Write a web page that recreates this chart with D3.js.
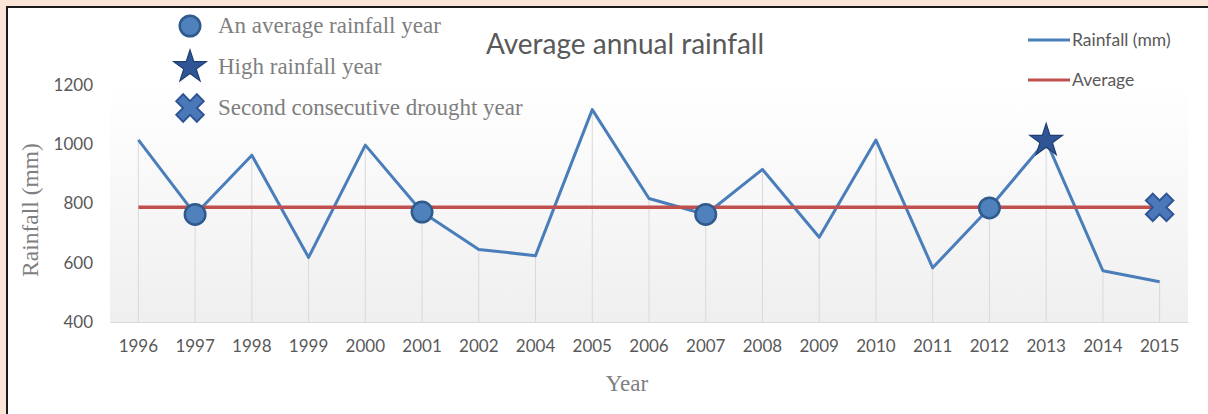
<!DOCTYPE html>
<html>
<head>
  <title>Average annual rainfall</title>
  <script src="https://d3js.org/d3.v7.min.js"></script>
  <style>
    html, body { margin: 0; padding: 0; background: #fbe4d8; overflow: hidden; }
    #panel {
      position: absolute; left: 6px; top: 6px; width: 1220px; height: 430px;
      background: #ffffff; border: 2px solid #1a1a1a;
    }
    svg { position: absolute; left: 0; top: 0; }
  </style>
</head>
<body>
  <div id="panel"></div>
  <svg id="chart" width="1208" height="414"></svg>

  <script>
    // chart values
    var years = ["1996", "1997", "1998", "1999", "2000", "2001", "2002", "2004", "2005", "2006",
                 "2007", "2008", "2009", "2010", "2011", "2012", "2013", "2014", "2015"];
    var rainfall = [1015, 763, 963, 618, 997, 771, 645, 624, 1117, 817,
                    763, 915, 686, 1014, 583, 785, 1012, 573, 536];
    var averageValue = 787;
    var yTicks = [400, 600, 800, 1000, 1200];

    // highlighted years
    var averageYears = ["1997", "2001", "2007", "2012"];
    var highYears = ["2013"];
    var droughtYears = ["2015"];

    var blue = "#4a7ebb", red = "#c0504d";
    var markFill = "#4f81bd", markStroke = "#2f5a8c", starFill = "#2f5597";

    var svg = d3.select("#chart");

    var x = d3.scaleBand().domain(years).range([110, 1188]);
    var y = d3.scaleLinear().domain([400, 1200]).range([322, 85]);
    function cx(d) { return x(d) + x.bandwidth() / 2; }

    var data = years.map(function(d, i) { return { year: d, value: rainfall[i] }; });

    // plot background gradient
    var grad = svg.append("defs").append("linearGradient")
      .attr("id", "bg").attr("x1", 0).attr("y1", 0).attr("x2", 0).attr("y2", 1);
    grad.append("stop").attr("offset", "0%").attr("stop-color", "#ffffff");
    grad.append("stop").attr("offset", "100%").attr("stop-color", "#efefef");

    svg.append("rect")
      .attr("x", x.range()[0]).attr("y", y(1200))
      .attr("width", x.range()[1] - x.range()[0]).attr("height", y(400) - y(1200))
      .attr("fill", "url(#bg)");

    // drop lines
    svg.append("g").selectAll("line").data(data).join("line")
      .attr("x1", function(d) { return cx(d.year); })
      .attr("x2", function(d) { return cx(d.year); })
      .attr("y1", function(d) { return y(d.value); })
      .attr("y2", y(400))
      .attr("stroke", "#d9d9d9").attr("stroke-width", 1);

    // axes
    var yAxis = svg.append("g")
      .attr("transform", "translate(110,0)")
      .call(d3.axisLeft(y).tickValues(yTicks).tickFormat(d3.format("d")).tickSize(0).tickPadding(17));
    yAxis.select(".domain").remove();

    var xAxis = svg.append("g")
      .attr("transform", "translate(0," + y(400) + ")")
      .call(d3.axisBottom(x).tickSize(0).tickPadding(18));
    xAxis.select(".domain").attr("stroke", "#d9d9d9");

    svg.selectAll(".tick text")
      .attr("font-family", "Lato, 'Open Sans', sans-serif")
      .attr("font-size", 17).attr("fill", "#595959");

    // lines
    svg.append("path")
      .datum(data)
      .attr("d", d3.line().x(function(d) { return cx(d.year); }).y(function(d) { return y(d.value); }))
      .attr("fill", "none").attr("stroke", blue).attr("stroke-width", 3)
      .attr("stroke-linejoin", "round");

    svg.append("line")
      .attr("x1", cx(years[0])).attr("x2", cx(years[years.length - 1]))
      .attr("y1", y(averageValue)).attr("y2", y(averageValue))
      .attr("stroke", red).attr("stroke-width", 3.5);

    // marker shapes
    var circlePath = d3.symbol().type(d3.symbolCircle).size(330)();
    var starPath = d3.symbol().type(d3.symbolStar).size(330)();
    var xPath = d3.symbol().type(d3.symbolCross).size(470)();

    function drawMark(g, kind) {
      if (kind === "circle") {
        g.append("path").attr("d", circlePath)
          .attr("fill", markFill).attr("stroke", markStroke).attr("stroke-width", 2.5);
      } else if (kind === "star") {
        g.append("path").attr("d", starPath)
          .attr("fill", starFill).attr("stroke", "#203f70").attr("stroke-width", 1.2);
      } else {
        g.append("path").attr("d", xPath).attr("transform", "rotate(45)")
          .attr("fill", "#4a78b8").attr("stroke", "#2f5597").attr("stroke-width", 2);
      }
    }

    averageYears.forEach(function(yr) {
      var g = svg.append("g").attr("transform", "translate(" + cx(yr) + "," + y(rainfall[years.indexOf(yr)]) + ")");
      drawMark(g, "circle");
    });
    highYears.forEach(function(yr) {
      var g = svg.append("g").attr("transform", "translate(" + cx(yr) + "," + y(rainfall[years.indexOf(yr)]) + ")");
      drawMark(g, "star");
    });
    droughtYears.forEach(function(yr) {
      var g = svg.append("g").attr("transform", "translate(" + cx(yr) + "," + y(averageValue) + ")");
      drawMark(g, "x");
    });

    // titles
    svg.append("text")
      .attr("x", 625).attr("y", 54)
      .attr("text-anchor", "middle")
      .attr("font-family", "Lato, 'Open Sans', sans-serif")
      .attr("font-size", 28).attr("fill", "#595959")
      .text("Average annual rainfall");

    svg.append("text")
      .attr("transform", "translate(38,210) rotate(-90)")
      .attr("text-anchor", "middle")
      .attr("font-family", "'Liberation Serif', serif")
      .attr("font-size", 23.5).attr("fill", "#7f7f7f")
      .text("Rainfall (mm)");

    svg.append("text")
      .attr("x", 627).attr("y", 391)
      .attr("text-anchor", "middle")
      .attr("font-family", "'Liberation Serif', serif")
      .attr("font-size", 23).attr("fill", "#7f7f7f")
      .text("Year");

    // marker legend (top left)
    var keyItems = [
      { kind: "circle", label: "An average rainfall year" },
      { kind: "star", label: "High rainfall year" },
      { kind: "x", label: "Second consecutive drought year" }
    ];
    var key = svg.append("g");
    keyItems.forEach(function(k, i) {
      var g = key.append("g").attr("transform", "translate(190," + (26 + i * 41) + ")");
      drawMark(g, k.kind);
      g.append("text")
        .attr("x", 28).attr("y", 7)
        .attr("font-family", "'Liberation Serif', serif")
        .attr("font-size", 23).attr("fill", "#7f7f7f")
        .text(k.label);
    });

    // series legend (top right)
    var seriesKey = [
      { color: blue, label: "Rainfall (mm)" },
      { color: red, label: "Average" }
    ];
    seriesKey.forEach(function(s, i) {
      var ly = 40 + i * 40;
      svg.append("line")
        .attr("x1", 1028).attr("x2", 1070).attr("y1", ly).attr("y2", ly)
        .attr("stroke", s.color).attr("stroke-width", 3);
      svg.append("text")
        .attr("x", 1072).attr("y", ly + 6)
        .attr("font-family", "Lato, 'Open Sans', sans-serif")
        .attr("font-size", 17.5).attr("fill", "#595959")
        .text(s.label);
    });
  </script>
</body>
</html>
